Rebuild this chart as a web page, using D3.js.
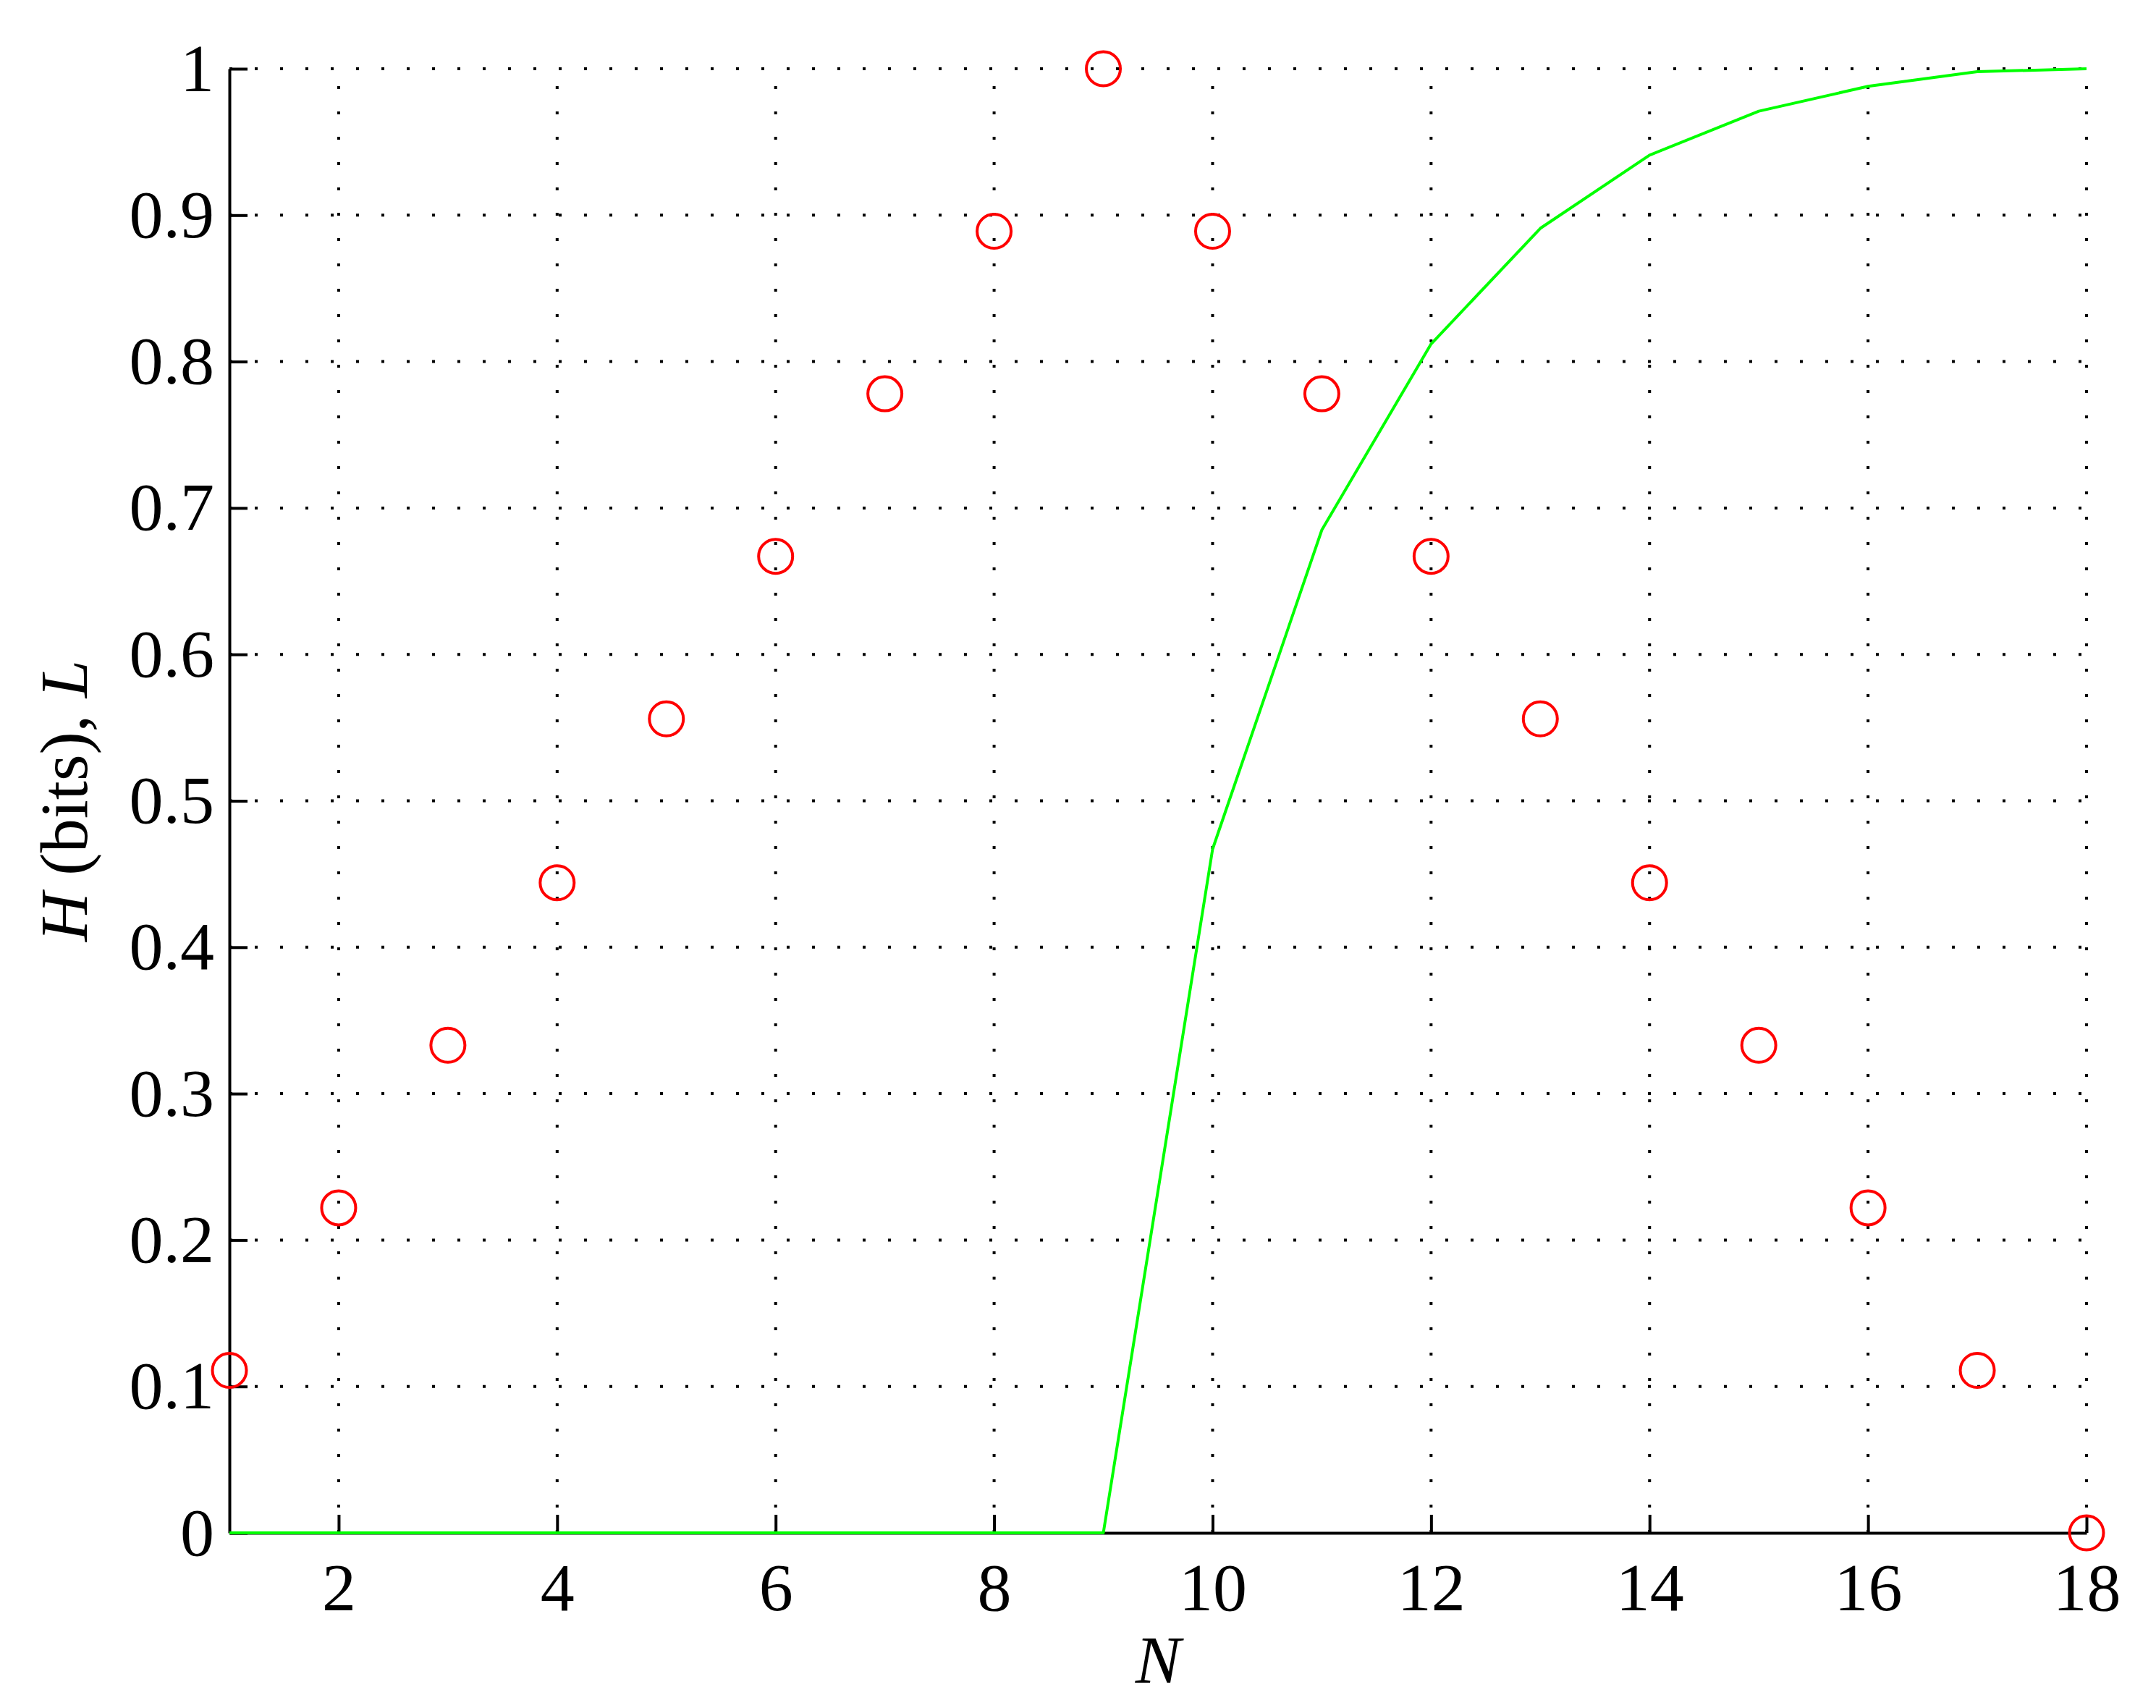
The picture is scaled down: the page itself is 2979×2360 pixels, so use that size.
<!DOCTYPE html>
<html>
<head>
<meta charset="utf-8">
<script src="https://cdn.jsdelivr.net/npm/d3@7"></script>
<style>
  html, body { margin: 0; padding: 0; background: #fff; }
  svg { display: block; }
</style>
</head>
<body>
<script>
// ---- data ----
const nValues = [1, 2, 3, 4, 5, 6, 7, 8, 9, 10, 11, 12, 13, 14, 15, 16, 17, 18];
const entropyH = [0.111, 0.222, 0.333, 0.444, 0.556, 0.667, 0.778, 0.889, 1.0,
                  0.889, 0.778, 0.667, 0.556, 0.444, 0.333, 0.222, 0.111, 0.0];
const levelL = [0, 0, 0, 0, 0, 0, 0, 0, 0,
                0.467, 0.685, 0.812, 0.891, 0.941, 0.971, 0.988, 0.998, 1.0];
const xTicks = [2, 4, 6, 8, 10, 12, 14, 16, 18];
const xGridTicks = [2, 4, 6, 8, 10, 12, 14, 16, 18];
const yTicks = [0, 0.1, 0.2, 0.3, 0.4, 0.5, 0.6, 0.7, 0.8, 0.9, 1];
const yTickLabels = ["0", "0.1", "0.2", "0.3", "0.4", "0.5", "0.6", "0.7", "0.8", "0.9", "1"];

// ---- layout ----
const W = 2979, Hpx = 2360;
const pLeft = 317, pRight = 2883, pTop = 95, pBottom = 2118;
const FONT = "'Liberation Serif', 'Times New Roman', serif";
const FS = 94;

const svg = d3.select("body").append("svg")
  .attr("width", W).attr("height", Hpx)
  .style("background", "#fff");

const x = d3.scaleLinear().domain([1, 18]).range([pLeft, pRight]);
const y = d3.scaleLinear().domain([0, 1]).range([pBottom, pTop]);

// grid
const grid = svg.append("g").attr("stroke", "#000").attr("stroke-width", 4)
  .attr("stroke-dasharray", "4 31");
grid.selectAll("line.h").data(yTicks.filter(d => d > 0)).join("line")
  .attr("x1", pLeft).attr("x2", pRight)
  .attr("y1", d => y(d)).attr("y2", d => y(d));
grid.selectAll("line.v").data(xGridTicks).join("line")
  .attr("y1", pBottom).attr("y2", pTop)
  .attr("x1", d => x(d)).attr("x2", d => x(d));

// axes
const xAxis = d3.axisBottom(x).tickValues(xTicks).tickFormat(d3.format("d"))
  .tickSizeInner(-25).tickSizeOuter(0).tickPadding(40);
const yAxis = d3.axisLeft(y).tickValues(yTicks)
  .tickFormat((d, i) => yTickLabels[i])
  .tickSizeInner(-25).tickSizeOuter(0).tickPadding(21);

function styleAxis(g) {
  g.selectAll("path.domain").attr("stroke", "#000").attr("stroke-width", 4);
  g.selectAll(".tick line").attr("stroke", "#000").attr("stroke-width", 4);
  g.selectAll(".tick text").attr("fill", "#000")
    .style("font-family", FONT).style("font-size", FS + "px");
  g.attr("font-family", null).attr("font-size", null);
}

svg.append("g").attr("transform", `translate(0,${pBottom})`).call(xAxis).call(styleAxis);
svg.append("g").attr("transform", `translate(${pLeft},0)`).call(yAxis).call(styleAxis);

// green line L
const line = d3.line().x((d, i) => x(nValues[i])).y(d => y(d));
svg.append("path").datum(levelL)
  .attr("d", line)
  .attr("fill", "none")
  .attr("stroke", "#00ff00")
  .attr("stroke-width", 4)
  .attr("stroke-linejoin", "round");

// red circles H
svg.append("g").selectAll("circle").data(entropyH).join("circle")
  .attr("cx", (d, i) => x(nValues[i]))
  .attr("cy", d => y(d))
  .attr("r", 23.5)
  .attr("fill", "none")
  .attr("stroke", "#ff0000")
  .attr("stroke-width", 4);

// axis labels
const yl = svg.append("text")
  .attr("transform", `translate(120,${(pTop + pBottom) / 2}) rotate(-90)`)
  .attr("text-anchor", "middle")
  .style("font-family", FONT).style("font-size", FS + "px").attr("fill", "#000");
yl.append("tspan").style("font-style", "italic").text("H");
yl.append("tspan").text(" (bits), ");
yl.append("tspan").style("font-style", "italic").text("L");

svg.append("text")
  .attr("x", (pLeft + pRight) / 2).attr("y", 2325)
  .attr("text-anchor", "middle")
  .style("font-family", FONT).style("font-size", FS + "px")
  .style("font-style", "italic").attr("fill", "#000")
  .text("N");
</script>
</body>
</html>
